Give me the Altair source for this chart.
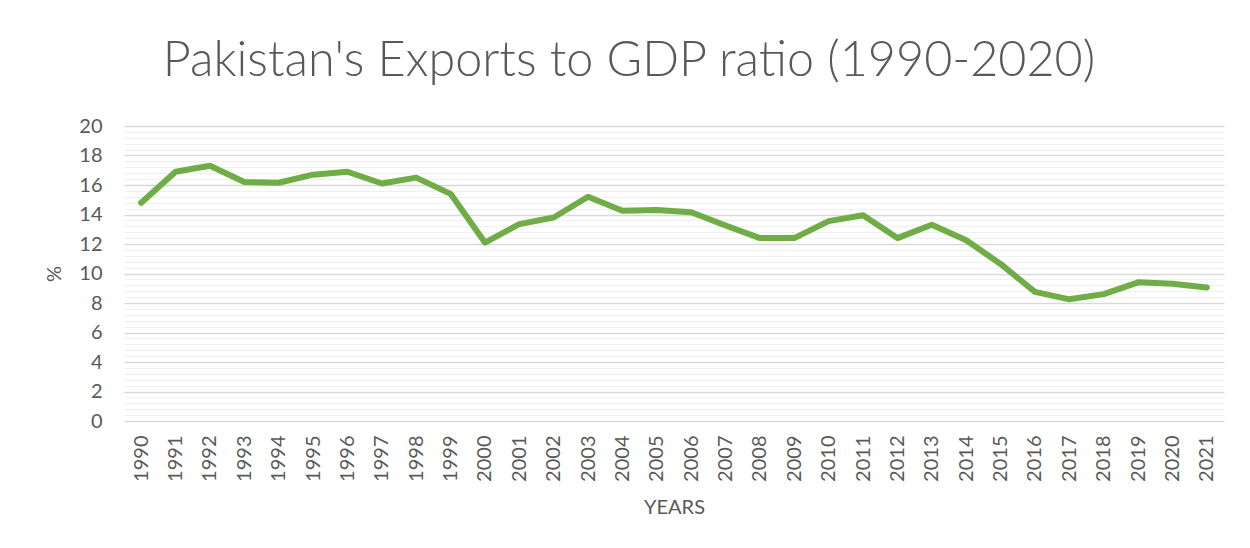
import altair as alt
import pandas as pd

years = [str(y) for y in range(1990, 2022)]
ratio = [14.8, 16.9, 17.3, 16.2, 16.15, 16.7, 16.9, 16.1, 16.5, 15.4,
         12.1, 13.35, 13.8, 15.2, 14.25, 14.3, 14.15, 13.25, 12.4, 12.4,
         13.55, 13.95, 12.4, 13.3, 12.25, 10.65, 8.75, 8.25, 8.6, 9.4,
         9.3, 9.05]
grid_values = [round(i * 0.4, 1) for i in range(0, 51)]

df = pd.DataFrame({"YEARS": years, "ratio": ratio})

TEXT = "#595959"
FONT = "Lato"

chart = alt.Chart(df).mark_line(
    color="#70ad47", strokeWidth=6, strokeCap="round", strokeJoin="round"
).encode(
    x=alt.X("YEARS:O", title="YEARS",
            axis=alt.Axis(labelAngle=270, labelFontSize=20, labelColor=TEXT,
                          labelFont=FONT, labelPadding=14, ticks=False,
                          domain=False, grid=False, titleFont=FONT,
                          titleFontSize=20, titleFontWeight="normal",
                          titleColor=TEXT, titlePadding=16)),
    y=alt.Y("ratio:Q", title="%",
            scale=alt.Scale(domain=[0, 20], nice=False),
            axis=alt.Axis(values=grid_values, labelOverlap=False,
                          labelExpr="datum.value % 2 === 0 ? '' + datum.value : ''",
                          labelFontSize=20, labelColor=TEXT, labelFont=FONT,
                          labelPadding=22, ticks=False, tickSize=0, domain=False,
                          gridColor=alt.condition("datum.value % 2 === 0",
                                                  alt.value("#d9d9d9"),
                                                  alt.value("#f0f0f0")),
                          gridWidth=alt.condition("datum.value % 2 === 0",
                                                  alt.value(1.5),
                                                  alt.value(1)),
                          titleFont=FONT, titleFontSize=20,
                          titleFontWeight="normal", titleColor=TEXT,
                          titlePadding=14)),
).properties(
    width=1100,
    height=295,
    title=alt.TitleParams("Pakistan's Exports to GDP ratio (1990-2020)",
                          font=FONT, fontSize=48.5, fontWeight=300, color=TEXT,
                          anchor="middle", dx=-45, dy=48, offset=40,
                          baseline="alphabetic"),
    autosize=alt.AutoSizeParams(type="none"),
    padding={"left": 116, "top": 118, "right": 10, "bottom": 117},
    background="white",
).configure_view(stroke=None)

chart.save("out.html", embed_options={"renderer": "svg", "actions": False})
